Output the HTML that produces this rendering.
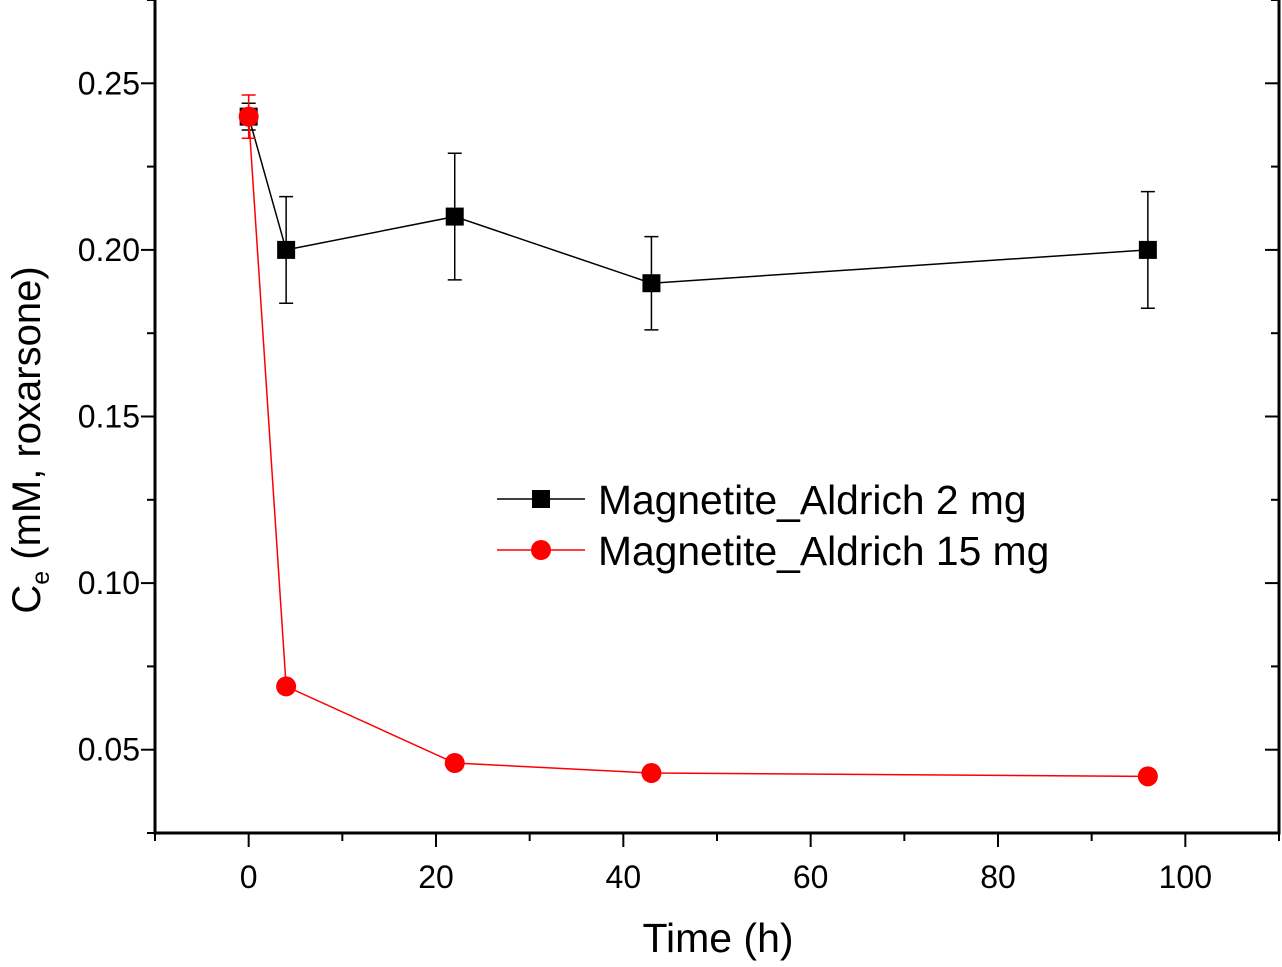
<!DOCTYPE html>
<html><head><meta charset="utf-8"><style>
body{margin:0;background:#fff}
svg text{font-family:"Liberation Sans",Arial,sans-serif}
</style></head><body>
<svg id="chart" width="1282" height="962" xmlns="http://www.w3.org/2000/svg">
<g id="axes"></g>
<g id="series"></g>
<text x="718" y="952" font-size="41" text-anchor="middle">Time (h)</text>
<text transform="translate(40,440) rotate(-90)" font-size="40" text-anchor="middle">C<tspan font-size="25" dy="9">e</tspan><tspan dy="-9"> (mM, roxarsone)</tspan></text>
<g>
<line x1="497" y1="499" x2="585" y2="499" stroke="#000" stroke-width="1.5"/>
<rect x="532" y="490" width="18" height="18" fill="#000"/>
<text x="598" y="514" font-size="40.8">Magnetite_Aldrich 2 mg</text>
<line x1="497" y1="550" x2="585" y2="550" stroke="#f00" stroke-width="1.5"/>
<circle cx="541" cy="550" r="10" fill="#f00"/>
<text x="598" y="565" font-size="40.8">Magnetite_Aldrich 15 mg</text>
</g>
</svg>
<script>
const times=[0,4,22,43,96];
const ce2mg=[0.24,0.20,0.21,0.19,0.20];
const err2mg=[0.004,0.016,0.019,0.014,0.0175];
const ce15mg=[0.24,0.069,0.046,0.043,0.042];
const err15mg=[0.0065,0,0,0,0];
const xTicks=[0,20,40,60,80,100];
const yTicks=[0.05,0.10,0.15,0.20,0.25];
const X0=-10,X1=110,Y0=0.025,Y1=0.275;
const L=155,R=1279,T=0,B=833;
const sx=v=>L+(v-X0)/(X1-X0)*(R-L);
const sy=v=>B-(v-Y0)/(Y1-Y0)*(B-T);
const NS="http://www.w3.org/2000/svg";
function mk(p,tag,a){const e=document.createElementNS(NS,tag);for(const k in a)e.setAttribute(k,a[k]);p.appendChild(e);return e;}
const ax=document.getElementById('axes');
let e;
e=mk(ax,'path',{d:`M${L},${T}V${B}H${R}V${T}`,fill:'none',stroke:'#000','stroke-width':3});


for(let v=X0;v<=X1+1e-9;v+=10){const x=sx(v);const major=xTicks.includes(v);
 mk(ax,'line',{x1:x,y1:B,x2:x,y2:B+(major?14:8),stroke:'#000','stroke-width':2});}
xTicks.forEach(v=>{e=mk(ax,'text',{x:sx(v),y:888,'font-size':32,'text-anchor':'middle'});e.textContent=v;
 
 });
for(let i=0;i<=10;i++){const v=Y0+i*0.025;const y=sy(v);const major=i%2==1;
 mk(ax,'line',{x1:L,y1:y,x2:L-(major?14:8),y2:y,stroke:'#000','stroke-width':2});
 mk(ax,'line',{x1:R,y1:y,x2:R-(major?14:8),y2:y,stroke:'#000','stroke-width':2});}
yTicks.forEach(v=>{e=mk(ax,'text',{x:140,y:sy(v)+11,'font-size':32,'text-anchor':'end'});e.textContent=v.toFixed(2);
 
 });
const sg=document.getElementById('series');
function series(vals,errs,col,shape,name){
 const g=mk(sg,'g',{});
 
 
 mk(g,'polyline',{points:times.map((t,i)=>sx(t)+','+sy(vals[i])).join(' '),fill:'none',stroke:col,'stroke-width':1.5});
 times.forEach((t,i)=>{const x=sx(t);
  if(errs[i]>0){const a=sy(vals[i]+errs[i]),b=sy(vals[i]-errs[i]);
   mk(g,'path',{d:`M${x},${a}V${b}M${x-7},${a}H${x+7}M${x-7},${b}H${x+7}`,stroke:col,'stroke-width':1.5,fill:'none'});}
  let m;
  if(shape=='sq')m=mk(g,'rect',{x:x-9,y:sy(vals[i])-9,width:18,height:18,fill:col});
  else m=mk(g,'circle',{cx:x,cy:sy(vals[i]),r:10,fill:col});
  
  
 });
}
series(ce2mg,err2mg,'#000','sq','series-2mg');
series(ce15mg,err15mg,'#f00','ci','series-15mg');
</script>
</body></html>
